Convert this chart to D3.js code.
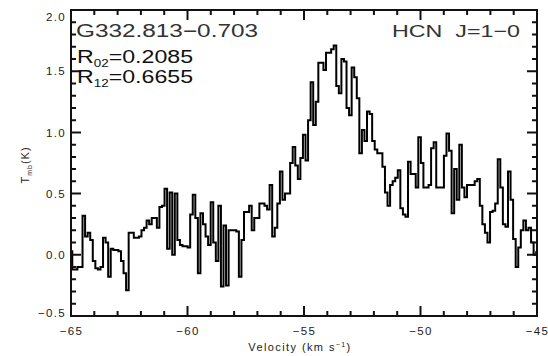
<!DOCTYPE html>
<html>
<head>
<meta charset="utf-8">
<script src="https://cdn.jsdelivr.net/npm/d3@7"></script>
</head>
<body style="margin:0">
<svg width="548" height="356"></svg>
<script>
// spectrum channels (km/s)
var velStart = -65, chanWidth = 0.11;
var tmb = [
  0.03, -0.12, -0.12, -0.10, -0.10, 0.32, 0.15, 0.18, 0.12, -0.05,
  -0.11, -0.12, -0.10, 0.14, 0.10, -0.18, 0.05, 0.04, 0.04, 0.03,
  -0.05, -0.15, -0.29, 0.18, 0.18, 0.14, 0.14, 0.15, 0.20, 0.22,
  0.28, 0.25, 0.30, 0.30, 0.22, 0.39, 0.40, 0.54, 0.05, 0.51,
  0.00, 0.50, 0.12, 0.08, 0.07, 0.07, 0.06, 0.33, 0.49, 0.30,
  -0.15, 0.34, 0.25, 0.15, 0.08, 0.43, 0.10, -0.05, 0.40, -0.26,
  0.24, -0.25, 0.20, 0.20, 0.20, 0.19, -0.18, 0.12, 0.35, 0.35,
  0.40, 0.20, 0.30, 0.30, 0.42, 0.42, 0.40, 0.37, 0.57, 0.15,
  0.22, 0.42, 0.68, 0.45, 0.50, 0.50, 0.75, 0.88, 0.73, 0.62,
  0.79, 0.98, 0.77, 1.10, 1.41, 1.06, 1.25, 1.57, 1.57, 1.51,
  1.65, 1.65, 1.68, 1.71, 1.38, 1.32, 1.60, 1.58, 1.20, 1.14,
  1.53, 1.45, 1.28, 0.83, 1.02, 0.93, 1.17, 1.15, 0.93, 0.86,
  0.83, 0.83, 0.72, 0.51, 0.40, 0.57, 0.60, 0.63, 0.69, 0.38,
  0.33, 0.31, 0.76, 0.66, 0.66, 0.55, 0.96, 0.75, 0.55, 0.55,
  0.57, 0.87, 0.92, 0.55, 0.55, 0.55, 0.81, 0.99, 0.85, 0.34,
  0.70, 0.45, 0.90, 0.55, 0.47, 0.57, 0.57, 0.57, 0.60, 0.62,
  0.40, 0.25, 0.18, 0.10, 0.35, 0.36, 0.42, 0.78, 0.55, 0.25,
  0.23, 0.68, 0.45, 0.13, -0.10, 0.06, 0.20, 0.28, 0.20, 0.22,
  0.10, 0.00, 0.02
];

var xMajor = [-65, -60, -55, -50, -45];
var yMajor = [-0.5, 0.0, 0.5, 1.0, 1.5, 2.0];
var sourceName = "G332.813\u22120.703";
var lineName = "HCN\u00a0\u00a0J=1\u22120";
var ratios = [["02", "0.2085"], ["12", "0.6655"]];

var font = "Liberation Sans, Arial, sans-serif";
var svg = d3.select("svg"),
  margin = { top: 10, right: 11, bottom: 40, left: 71 },
  width = 548 - margin.left - margin.right,
  height = 356 - margin.top - margin.bottom;

var x = d3.scaleLinear().domain([-65, -45]).range([0, width]),
  y = d3.scaleLinear().domain([-0.5, 2.0]).range([height, 0]);

var g = svg.append("g")
  .attr("transform", "translate(" + margin.left + "," + margin.top + ")");

var data = tmb.map(function (t, i) { return { v: velStart + i * chanWidth, t: t }; });

var spectrum = d3.line()
  .curve(d3.curveStep)
  .x(function (d) { return x(d.v); })
  .y(function (d) { return y(d.t); });

g.append("path")
  .datum(data)
  .attr("fill", "none")
  .attr("stroke", "#000")
  .attr("stroke-width", 2)
  .attr("d", spectrum);

var xMinor = d3.range(-64, -45, 1).filter(function (v) { return v % 5 !== 0; });
var yMinor = d3.range(-4, 20, 1).filter(function (v) { return v % 5 !== 0; }).map(function (v) { return v / 10; });
var fmtX = d3.format("d"), fmtY = d3.format(".1f");

// tick labels, via axes
var xa = g.append("g")
  .attr("transform", "translate(0," + height + ")")
  .call(d3.axisBottom(x).tickValues(xMajor).tickFormat(fmtX).tickSize(0).tickPadding(11));
var ya = g.append("g")
  .call(d3.axisLeft(y).tickValues(yMajor).tickFormat(fmtY).tickSize(0).tickPadding(5));
[xa, ya].forEach(function (a) {
  a.select(".domain").remove();
  a.selectAll("text")
    .attr("fill", "#222").attr("font-size", 11.5).attr("font-family", font)
    .attr("letter-spacing", 1.3);
});
// top label sits a bit lower, bottom one a bit higher, like the original
ya.selectAll("text").filter(function (d) { return d === 2.0; }).attr("dy", "0.9em");
ya.selectAll("text").filter(function (d) { return d === -0.5; }).attr("dy", "0.05em");

// frame
g.append("rect")
  .attr("width", width).attr("height", height)
  .attr("fill", "none").attr("stroke", "#111").attr("stroke-width", 2);

// inward tick marks on all four sides, as one path
var tp = d3.path();
function xTicks(vals, len) {
  vals.forEach(function (d) {
    tp.moveTo(x(d), height); tp.lineTo(x(d), height - len);
    tp.moveTo(x(d), 0); tp.lineTo(x(d), len);
  });
}
function yTicks(vals, len) {
  vals.forEach(function (d) {
    tp.moveTo(0, y(d)); tp.lineTo(len, y(d));
    tp.moveTo(width, y(d)); tp.lineTo(width - len, y(d));
  });
}
xTicks(xMajor, 10); xTicks(xMinor, 5);
yTicks(yMajor, 10); yTicks(yMinor, 5);
g.append("path")
  .attr("d", tp.toString())
  .attr("fill", "none")
  .attr("stroke", "#111")
  .attr("stroke-width", 2);

// axis titles
var xt = g.append("text")
  .attr("x", width / 2 - 4).attr("y", height + 35)
  .attr("text-anchor", "middle").attr("font-family", font)
  .attr("font-size", 11).attr("letter-spacing", 1.4).attr("fill", "#222")
  .text("Velocity (km s");
xt.append("tspan").attr("dy", -4).attr("font-size", 7).text("\u22121");
xt.append("tspan").attr("dy", 4).text(")");

var yt = svg.append("text")
  .attr("transform", "translate(29,165) rotate(-90)")
  .attr("text-anchor", "middle").attr("font-family", font)
  .attr("font-size", 11).attr("letter-spacing", 1).attr("fill", "#222")
  .text("T");
yt.append("tspan").attr("dy", 3).attr("font-size", 7).text("mb");
yt.append("tspan").attr("dy", -3).text("(K)");

// annotations
g.append("text")
  .attr("x", 5).attr("y", 27).attr("font-family", font)
  .attr("font-size", 18).attr("fill", "#333")
  .attr("textLength", 182).attr("lengthAdjust", "spacingAndGlyphs")
  .text(sourceName);

g.append("text")
  .attr("x", width - 17).attr("y", 27).attr("font-family", font)
  .attr("text-anchor", "end")
  .attr("font-size", 17).attr("fill", "#333")
  .attr("textLength", 128).attr("lengthAdjust", "spacingAndGlyphs")
  .text(lineName);

ratios.forEach(function (r, i) {
  var t = g.append("g")
    .attr("transform", "translate(6," + (53 + i * 20) + ") scale(1.22,1)")
    .append("text").attr("font-family", font)
    .attr("font-size", 19).attr("fill", "#111")
    .text("R");
  t.append("tspan").attr("dy", 4).attr("font-size", 11).text(r[0]);
  t.append("tspan").attr("dy", -4).text("=" + r[1]);
});
</script>
</body>
</html>
